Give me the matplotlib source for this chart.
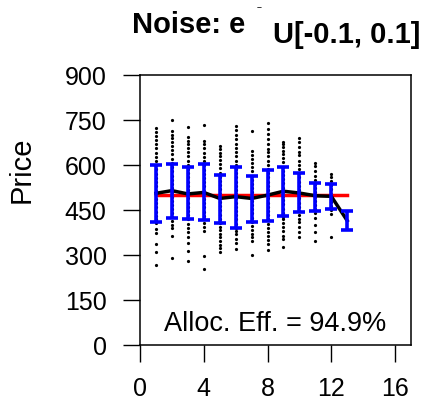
#!/usr/bin/env python3
"""Transaction prices per period with mean line and error bars."""

import matplotlib
matplotlib.use("Agg")
import matplotlib.pyplot as plt

plt.rcParams["font.family"] = ["Liberation Sans", "DejaVu Sans"]

PERIODS = list(range(1, 14))
MEAN_PRICE = [505, 514, 503, 508, 488, 494, 488, 499, 512, 506, 497, 495, 414]
BAR_TOP = [599, 603, 593, 602, 565, 594, 563, 584, 592, 572, 538, 535, 445]
BAR_BOTTOM = [409, 424, 419, 416, 405, 390, 409, 412, 431, 442, 447, 452, 384]
EQUILIBRIUM = 500
EFFICIENCY = "Alloc. Eff. = 94.9%"

# individual transaction prices per period (period 13 has none shown)
TRADES = {
    1: [721, 708, 695, 682, 668, 655, 640, 626, 612, 598, 585, 570, 556, 542, 528,
        514, 500, 486, 472, 458, 444, 430, 418, 405, 386, 372, 336, 308, 268],
    2: [750, 712, 700, 688, 675, 662, 648, 635, 620, 606, 592, 578, 564, 550, 536,
        522, 508, 494, 480, 466, 452, 438, 425, 412, 400, 388, 364, 290],
    3: [726, 693, 680, 668, 655, 642, 628, 614, 600, 586, 572, 558, 544, 530, 516,
        502, 488, 474, 460, 446, 432, 418, 402, 390, 376, 360, 340, 313, 280],
    4: [733, 680, 668, 655, 640, 626, 612, 598, 584, 570, 556, 542, 528, 514, 500,
        486, 472, 458, 444, 430, 418, 405, 392, 380, 298, 253],
    5: [664, 652, 640, 628, 615, 602, 588, 574, 560, 546, 532, 518, 504, 490, 476,
        462, 448, 434, 420, 406, 393, 382, 370, 358, 346, 334, 322, 311],
    6: [728, 715, 698, 685, 670, 656, 642, 628, 614, 600, 586, 572, 558, 544, 530,
        516, 502, 488, 474, 460, 446, 432, 418, 404, 390, 380, 368, 353, 340, 320],
    7: [711, 647, 634, 620, 606, 592, 578, 564, 550, 536, 522, 508, 494, 480, 466,
        452, 438, 424, 410, 396, 384, 371, 358, 347, 300],
    8: [738, 720, 703, 686, 670, 654, 642, 628, 614, 600, 586, 572, 558, 544, 530,
        516, 502, 488, 474, 460, 446, 432, 418, 404, 390, 376, 362, 350, 336, 317],
    9: [677, 668, 658, 646, 636, 622, 608, 594, 580, 566, 552, 538, 524, 510, 496,
        482, 468, 454, 440, 427, 418, 406, 392, 378, 364, 352, 326],
    10: [688, 677, 658, 644, 631, 614, 600, 586, 572, 558, 544, 530, 516, 502, 488,
         474, 460, 446, 432, 420, 408, 392, 375, 360],
    11: [606, 595, 580, 564, 550, 536, 522, 508, 494, 480, 466, 452, 440, 422, 398,
         376, 347],
    12: [569, 558, 546, 532, 518, 504, 490, 476, 462, 449, 436, 358],
}

X_TICKS = [0, 4, 8, 12, 16]
Y_TICKS = [0, 150, 300, 450, 600, 750, 900]


def main() -> None:
    fig = plt.figure(figsize=(4.28, 4.02), dpi=100)
    ax = fig.add_axes([140 / 428, 56 / 402, 271 / 428, 270.3 / 402])

    for period, prices in TRADES.items():
        ax.plot([period] * len(prices), prices, "o", color="black",
                markersize=2.3, markeredgewidth=0, zorder=2)

    ax.plot([PERIODS[0], PERIODS[-1]], [EQUILIBRIUM, EQUILIBRIUM],
            color="#ff0000", linewidth=2.5, zorder=3)
    ax.plot(PERIODS, MEAN_PRICE, color="black", linewidth=2.5, zorder=4)

    lower = [m - b for m, b in zip(MEAN_PRICE, BAR_BOTTOM)]
    upper = [t - m for m, t in zip(MEAN_PRICE, BAR_TOP)]
    ax.errorbar(PERIODS, MEAN_PRICE, yerr=[lower, upper], fmt="none",
                ecolor="#0000ff", elinewidth=2.6, capsize=4.0, capthick=2.6,
                zorder=5)

    ax.text(8.5, 50, EFFICIENCY, ha="center", va="baseline", fontsize=19.5)

    ax.set_xlim(0, 17)
    ax.set_ylim(0, 900)
    ax.set_xticks(X_TICKS)
    ax.set_yticks(Y_TICKS)
    ax.tick_params(axis="both", direction="out", length=12, width=1.0,
                   labelsize=18)
    ax.tick_params(axis="x", pad=10)
    ax.tick_params(axis="y", pad=12)
    for spine in ax.spines.values():
        spine.set_linewidth(1.1)

    fig.text(22 / 428, 1 - 170 / 402, "Price", fontsize=21, rotation=90,
             ha="center", va="center")
    fig.text(132 / 428, 1 - 33 / 402, "Noise: e", fontsize=21,
             fontweight="bold", ha="left", va="baseline")
    fig.text(257 / 428, 1 - 10 / 402, "~", fontsize=6, fontweight="bold",
             ha="left", va="baseline")
    fig.text(273 / 428, 1 - 43 / 402, "U[-0.1, 0.1]", fontsize=21,
             fontweight="bold", ha="left", va="baseline")

    fig.savefig("out.png", dpi=100)
    plt.close(fig)


if __name__ == "__main__":
    main()
